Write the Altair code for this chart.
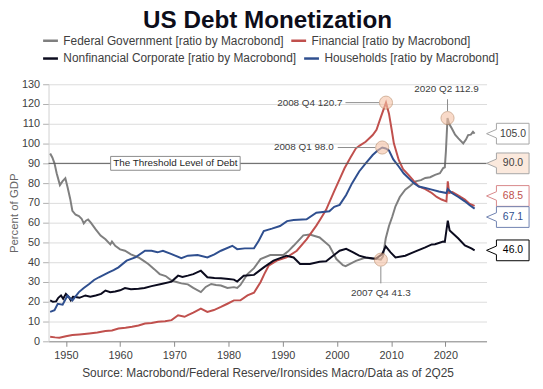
import altair as alt
import pandas as pd

# ---------------- data ----------------
fed_years = [1947.1, 1947.5, 1947.9, 1948.3, 1948.9, 1949.4, 1949.9, 1950.3, 1950.8, 1951.2,
             1951.8, 1952.4, 1952.9, 1953.3, 1953.7, 1954.1, 1954.6, 1955.5, 1956.4, 1957.3,
             1958.2, 1958.5, 1959.1, 1960.0, 1960.9, 1962.0, 1963.4, 1964.3, 1965.2, 1966.3,
             1967.3, 1968.4, 1969.5, 1970.4, 1971.3, 1972.5, 1973.5, 1974.9, 1975.8, 1976.8,
             1977.7, 1978.6, 1979.8, 1981.0, 1981.6, 1982.2, 1983.5, 1984.7, 1985.9, 1987.7,
             1990.1, 1991.0, 1992.0, 1993.8, 1995.0, 1996.8, 1998.6, 1999.9, 2001.1, 2001.6,
             2003.5, 2005.3, 2006.5, 2007.5, 2008.1, 2008.5, 2009.0, 2009.6, 2010.2, 2010.8,
             2011.6, 2012.6, 2013.5, 2014.5, 2015.5, 2016.3, 2017.2, 2018.1, 2019.0, 2019.6,
             2019.9, 2020.1, 2020.4, 2020.7, 2021.2, 2021.8, 2022.4, 2023.3, 2023.8, 2024.2,
             2024.7, 2025.1, 2025.4]
fed_vals = [95.0, 93.0, 90.0, 85.0, 79.0, 81.0, 82.5, 78.0, 72.0, 66.0,
            64.0, 63.3, 62.0, 59.6, 61.0, 61.6, 60.0, 56.6, 53.5, 51.6,
            49.0, 50.5, 48.3, 46.5, 45.8, 44.0, 42.4, 40.8, 39.1, 36.5,
            34.0, 33.0, 30.7, 30.0, 29.3, 28.8, 27.0, 24.9, 27.5, 29.0,
            28.5, 28.2, 27.0, 27.4, 27.0, 28.5, 34.0, 37.0, 41.6, 43.6,
            43.6, 45.5, 48.3, 53.6, 54.0, 52.5, 48.3, 41.6, 38.5, 38.0,
            40.7, 42.4, 41.8, 41.6, 41.3, 43.0, 52.0, 58.3, 63.0, 68.3,
            73.0, 76.7, 78.5, 80.9, 81.5, 82.6, 83.0, 84.2, 85.0, 87.6,
            88.0, 96.0, 112.9, 110.0, 107.6, 104.5, 102.6, 100.1, 102.0, 104.3,
            104.5, 105.9, 105.0]

fin_years = [1947.1, 1948.0, 1948.8, 1950.0, 1951.2, 1952.5, 1954.3, 1955.8, 1957.3, 1958.5,
             1959.7, 1961.0, 1962.2, 1963.4, 1964.6, 1965.8, 1967.0, 1968.3, 1969.5, 1970.7,
             1971.9, 1972.5, 1973.5, 1974.9, 1976.1, 1977.3, 1978.6, 1979.8, 1981.0, 1982.2,
             1983.5, 1984.7, 1985.9, 1986.6, 1987.4, 1988.9, 1990.7, 1992.6, 1994.4, 1996.2,
             1997.0, 1998.0, 1999.5, 2000.5, 2001.4, 2002.5, 2003.5, 2004.2, 2005.3, 2006.6,
             2007.3, 2008.1, 2009.05, 2009.6, 2010.1, 2010.5, 2011.4, 2012.2, 2013.2, 2014.2,
             2015.1, 2016.3, 2017.5, 2018.4, 2019.3, 2020.2, 2020.45, 2020.7, 2021.3, 2022.1,
             2022.8, 2023.6, 2024.5, 2025.4]
fin_vals = [2.3, 2.0, 1.8, 2.6, 3.2, 3.5, 4.0, 4.5, 5.2, 5.5,
            6.5, 6.9, 7.4, 8.0, 9.0, 9.3, 9.9, 10.2, 10.7, 13.2,
            12.4, 13.2, 14.5, 16.5, 14.9, 15.8, 17.4, 19.0, 20.7, 20.7,
            23.2, 24.6, 29.9, 34.0, 38.2, 40.8, 42.4, 45.8, 51.6, 58.5,
            62.0, 66.5, 76.0, 82.0, 87.5, 93.0, 97.6, 99.0, 100.9, 104.3,
            107.0, 113.4, 120.7, 115.1, 107.0, 100.1, 91.7, 87.0, 84.2, 81.0,
            78.3, 77.0, 75.0, 73.0, 71.7, 70.8, 80.9, 75.0, 75.5, 74.2,
            73.0, 71.7, 69.5, 68.5]

hh_years = [1947.1, 1947.9, 1948.5, 1949.4, 1950.3, 1951.2, 1952.4, 1953.3, 1954.3, 1955.2,
            1956.1, 1957.9, 1958.8, 1959.7, 1961.2, 1962.8, 1964.6, 1965.8, 1966.9, 1967.9,
            1969.5, 1971.3, 1972.5, 1974.3, 1976.1, 1977.4, 1978.6, 1980.7, 1981.6, 1983.0,
            1984.7, 1985.6, 1986.5, 1988.0, 1989.5, 1990.8, 1992.0, 1994.4, 1996.2, 1998.6,
            1999.5, 2000.5, 2001.7, 2002.8, 2004.1, 2005.3, 2006.6, 2007.5, 2008.35, 2009.0,
            2009.6, 2010.4, 2011.4, 2012.3, 2013.2, 2014.2, 2015.1, 2016.3, 2017.5, 2018.8,
            2020.2, 2020.45, 2021.2, 2022.4, 2023.6, 2024.5, 2025.4]
hh_vals = [14.9, 15.7, 19.0, 18.5, 23.2, 20.7, 24.9, 27.0, 29.0, 31.0,
           32.4, 34.9, 36.0, 37.4, 40.8, 42.4, 45.8, 45.8, 45.0, 45.8,
           44.1, 42.0, 43.3, 43.6, 42.4, 44.0, 45.8, 48.3, 46.6, 47.0,
           47.0, 51.0, 55.8, 57.0, 58.3, 60.8, 61.3, 61.7, 65.0, 65.8,
           68.0, 69.0, 74.0, 80.0, 85.9, 90.0, 94.2, 96.5, 98.0, 97.5,
           96.5, 92.0, 88.4, 85.0, 82.6, 80.0, 78.3, 77.5, 76.7, 75.8,
           75.0, 77.0, 75.0, 73.0, 70.8, 68.8, 67.1]

corp_years = [1947.1, 1947.6, 1948.2, 1948.6, 1949.1, 1949.5, 1950.0, 1950.5, 1950.9, 1951.3,
              1951.8, 1952.5, 1953.6, 1954.5, 1955.5, 1956.5, 1957.3, 1958.2, 1959.1, 1960.0,
              1960.9, 1962.0, 1963.4, 1964.5, 1965.8, 1967.6, 1969.5, 1970.7, 1971.5, 1972.5,
              1973.5, 1974.9, 1976.1, 1977.4, 1978.6, 1980.0, 1981.0, 1981.6, 1982.8, 1984.7,
              1986.5, 1988.3, 1990.7, 1992.0, 1993.2, 1995.0, 1996.8, 1998.0, 1999.3, 2000.5,
              2001.7, 2003.0, 2004.1, 2005.3, 2007.2, 2008.3, 2009.0, 2009.9, 2010.8, 2012.6,
              2014.5, 2016.3, 2017.5, 2018.1, 2019.6, 2019.9, 2020.45, 2020.8, 2021.2, 2022.4,
              2023.6, 2024.8, 2025.4]
corp_vals = [20.7, 20.0, 20.2, 22.0, 23.2, 21.5, 24.0, 22.5, 20.7, 22.5,
             22.4, 22.0, 23.2, 22.5, 23.2, 24.0, 25.7, 24.8, 25.2, 25.8,
             26.9, 26.3, 26.6, 27.0, 27.9, 29.0, 30.2, 33.2, 32.5, 33.2,
             34.0, 35.7, 32.4, 32.0, 31.9, 31.5, 31.2, 30.2, 33.2, 33.6,
             37.4, 40.8, 43.3, 42.4, 39.1, 39.1, 40.2, 40.5, 43.3, 45.8,
             46.8, 45.0, 43.3, 42.4, 41.8, 44.0, 48.0, 45.0, 42.4, 43.3,
             45.5, 47.5, 49.0, 49.1, 50.5, 50.3, 61.0, 56.0, 55.0, 52.0,
             48.5, 47.0, 46.0]

series_names = ["Federal Government [ratio by Macrobond]", "Financial [ratio by Macrobond]",
                "Nonfinancial Corporate [ratio by Macrobond]", "Households [ratio by Macrobond]"]
series_colors = ["#7f7f7f", "#c0504d", "#0b0b1e", "#2f4f8f"]

ann_labels = ["2008 Q4 120.7", "2008 Q1 98.0", "2020 Q2 112.9", "2007 Q4 41.3"]
ann_years = [2009.05, 2008.35, 2020.4, 2008.1]
ann_vals = [120.7, 98.0, 112.9, 41.3]

end_labels = ["105.0", "90.0", "68.5", "67.1", "46.0"]
end_vals = [105.0, 90.0, 68.5, 67.1, 46.0]
end_text_colors = ["#404040", "#404040", "#c0504d", "#2f4f8f", "#000000"]
end_strokes = ["#a6a6a6", "#a6a6a6", "#d9888a", "#6f82b0", "#000000"]
end_fills = ["#ffffff", "#fbe9dd", "#ffffff", "#ffffff", "#ffffff"]

threshold = 90.0
threshold_label = "The Threshold Level of Debt"
threshold_label_year = 1970.2

x_ticks = [1950, 1960, 1970, 1980, 1990, 2000, 2010, 2020]
y_ticks = list(range(0, 131, 10))
x_min, x_max = 1946.8, 2027.6

# ---------------- build tables ----------------
rows = []
for name, yrs, vs in zip(series_names,
                         [fed_years, fin_years, corp_years, hh_years],
                         [fed_vals, fin_vals, corp_vals, hh_vals]):
    for y_, v_ in zip(yrs, vs):
        rows.append({"series": name, "year": y_, "value": v_})
lines_df = pd.DataFrame(rows)

ann_df = pd.DataFrame({"label": ann_labels, "year": ann_years, "value": ann_vals})
end_df = pd.DataFrame({"label": end_labels, "value": end_vals, "tc": end_text_colors,
                       "sc": end_strokes, "fc": end_fills, "year": [x_max] * len(end_vals)})
thr_df = pd.DataFrame({"year": [threshold_label_year], "value": [threshold], "t": [threshold_label]})

FONT = "Liberation Sans"
xs = alt.Scale(domain=[x_min, x_max], nice=False, zero=False)
ys = alt.Scale(domain=[0, 130], nice=False)

x_axis = alt.Axis(values=x_ticks, format="d", grid=False, tickSize=5, tickColor="#8c8c8c",
                  domainColor="#8c8c8c", labelFontSize=11, labelColor="#404040",
                  labelPadding=3,
                  title="Source: Macrobond/Federal Reserve/Ironsides Macro/Data as of 2Q25",
                  titleFontSize=12, titleFontWeight="normal", titleColor="#404040",
                  titlePadding=8)
y_axis = alt.Axis(values=y_ticks, grid=True, gridColor="#dcdcdc", tickSize=6,
                  tickColor="#b0b0b0", domainColor="#d0d0d0", labelFontSize=11,
                  labelColor="#404040", labelPadding=3, labelOverlap=False,
                  title="Percent of GDP", titleFontSize=11.5, titleFontWeight="normal",
                  titleColor="#666666", titlePadding=2)

X = alt.X("year:Q", scale=xs, axis=x_axis)
Y = alt.Y("value:Q", scale=ys, axis=y_axis)

def row_legend(ly):
    return alt.Legend(orient="none", legendX=-7, legendY=ly, direction="horizontal",
                      symbolType="stroke", symbolSize=225, symbolStrokeWidth=2.5,
                      labelFontSize=12, labelColor="#404040", title=None,
                      columnPadding=2, labelOffset=4, padding=0, labelLimit=400)

row1 = series_names[:2]
row2 = series_names[2:]

lines_a = alt.Chart(lines_df).transform_filter(
    alt.FieldOneOfPredicate(field="series", oneOf=row1)
).mark_line(strokeWidth=2).encode(
    x=X, y=Y,
    color=alt.Color("series:N", scale=alt.Scale(domain=row1, range=series_colors[:2]),
                    sort=row1, legend=row_legend(-53)),
    order=alt.Order("year:Q"),
)
lines_b = alt.Chart(lines_df).transform_filter(
    alt.FieldOneOfPredicate(field="series", oneOf=row2)
).mark_line(strokeWidth=2).encode(
    x=X, y=Y,
    stroke=alt.Stroke("series:N", scale=alt.Scale(domain=row2, range=series_colors[2:]),
                      sort=row2, legend=row_legend(-35)),
    order=alt.Order("year:Q"),
)

thr_rule = alt.Chart(pd.DataFrame({"value": [threshold]})).mark_rule(
    color="#595959", strokeWidth=1).encode(y=Y)

thr_box = alt.Chart(thr_df).mark_point(
    shape="M -1 -0.107 L 1 -0.107 L 1 0.107 L -1 0.107 Z", size=17161, filled=True,
    fill="#ffffff", stroke="#8c8c8c", strokeWidth=1, opacity=1).encode(x=X, y=Y)

thr_text = alt.Chart(thr_df).mark_text(
    fontSize=10, color="#262626", baseline="middle", align="center").encode(
    x=X, y=Y, text="t:N")

circles = alt.Chart(ann_df).mark_circle(size=175, color="#f6c3a6", opacity=0.6, stroke="#b07850",
                                        strokeWidth=1, strokeOpacity=0.9).encode(x=X, y=Y)

def ann_layer(i, rule_kw, text_kw):
    d = alt.Chart(ann_df.iloc[[i]])
    r = d.mark_rule(color="#8c8c8c", strokeWidth=1, **rule_kw).encode(
        x=X, y=Y, x2="year:Q", y2="value:Q")
    t = d.mark_text(fontSize=10, color="#404040", baseline="middle", **text_kw).encode(
        x=X, y=Y, text="label:N")
    return r + t

a1 = ann_layer(0, dict(xOffset=-41, x2Offset=-7), dict(align="right", dx=-44))
a2 = ann_layer(1, dict(xOffset=-45, x2Offset=-7), dict(align="right", dx=-49))
a3 = ann_layer(2, dict(yOffset=-19, y2Offset=-7), dict(align="center", dx=-1, dy=-29))
a4 = ann_layer(3, dict(yOffset=7, y2Offset=24), dict(align="center", dx=0, dy=34))

CALLOUT = "M -1 0 L -0.535 -0.2 L -0.535 -0.488 L 1 -0.488 L 1 0.488 L -0.535 0.488 L -0.535 0.2 Z"

def end_layer(idx, yoff):
    d = alt.Chart(end_df.iloc[idx])
    box = d.mark_point(shape=CALLOUT, size=1849, filled=True, opacity=1, strokeWidth=1,
                       xOffset=21.5, yOffset=yoff).encode(
        x=X, y=Y,
        fill=alt.Fill("fc:N", scale=None), stroke=alt.Stroke("sc:N", scale=None))
    txt = d.mark_text(fontSize=10.5, baseline="middle", align="center", xOffset=26.7,
                      yOffset=yoff).encode(
        x=X, y=Y, text="label:N", color=alt.Color("tc:N", scale=None))
    return box + txt

e_main = end_layer([0, 1, 4], 0)
e_fin = end_layer([2], -10)
e_hh = end_layer([3], 8.5)

chart = alt.layer(
    lines_a, lines_b, thr_rule, thr_box, thr_text, circles, a1, a2, a3, a4, e_main, e_fin, e_hh
).resolve_scale(color="independent", stroke="independent").properties(
    width=443, height=260,
    padding={"left": 41, "top": 75, "right": 49, "bottom": 36},
    autosize=alt.AutoSizeParams(type="none"),
    title=alt.TitleParams("US Debt Monetization", fontSize=24.5, font=FONT, fontWeight="bold",
                          color="#0d0d1a", anchor="middle", dy=8, offset=6),
).configure(font=FONT).configure_view(stroke=None)

chart.save("out.html", embed_options={"renderer": "svg", "actions": False})
